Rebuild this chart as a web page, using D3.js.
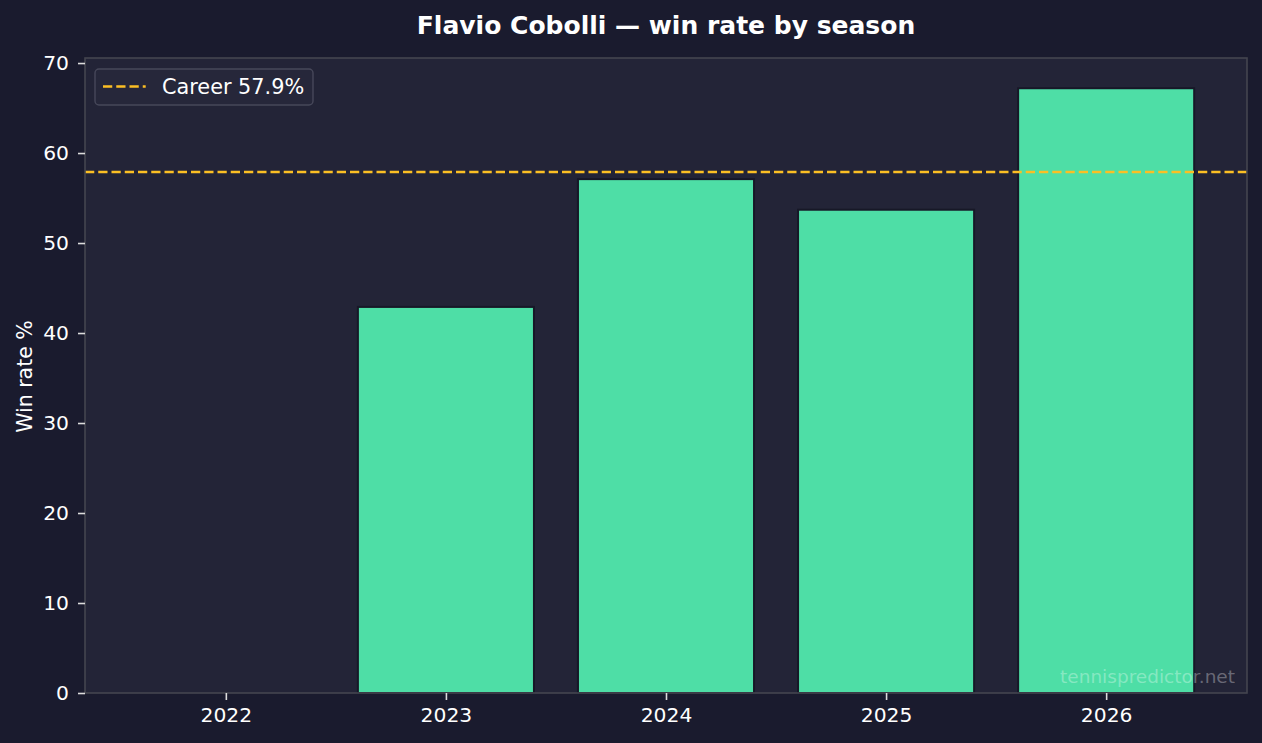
<!DOCTYPE html>
<html>
<head>
<meta charset="utf-8">
<script src="https://cdn.jsdelivr.net/npm/d3@7"></script>
<style>
  body { margin: 0; background: #1a1b2e; }
  svg { display: block; font-family: "DejaVu Sans", sans-serif; }
</style>
</head>
<body>
<div id="chart"></div>
<script>
// season data
var seasons = ["2022", "2023", "2024", "2025", "2026"];
var winRates = [0, 42.9, 57.1, 53.7, 67.2];
var careerRate = 57.9;
var yTicks = [0, 10, 20, 30, 40, 50, 60, 70];

var W = 1262, H = 743;
var margin = {top: 58, right: 15, bottom: 50, left: 85},
    width = W - margin.left - margin.right,
    height = H - margin.top - margin.bottom;

var svg = d3.select("#chart").append("svg")
    .attr("width", W)
    .attr("height", H);

svg.append("rect").attr("width", W).attr("height", H).attr("fill", "#1a1b2e");

var g = svg.append("g")
    .attr("transform", "translate(" + margin.left + "," + margin.top + ")");

// matplotlib-like band: bars 0.8 wide, 5% margins
var n = seasons.length;
var lo = -0.4, hi = n - 1 + 0.4, pad = (hi - lo) * 0.05;
var xi = d3.scaleLinear().domain([lo - pad, hi + pad]).range([0, width]);
var yMax = d3.max(winRates) * 1.05;
var y = d3.scaleLinear().domain([0, yMax]).range([height, 0]);

g.append("rect")
    .attr("width", width).attr("height", height)
    .attr("fill", "#232437");

// bars
g.selectAll(".bar")
    .data(winRates).enter()
    .append("rect")
    .attr("class", "bar")
    .attr("x", function(d, i) { return xi(i - 0.4); })
    .attr("width", xi(0.4) - xi(-0.4))
    .attr("y", function(d) { return y(d); })
    .attr("height", function(d) { return height - y(d); })
    .attr("fill", "#4edea6")
    .attr("stroke", "#171827")
    .attr("stroke-width", 2);

// career line
g.append("line")
    .attr("x1", 0).attr("x2", width)
    .attr("y1", y(careerRate)).attr("y2", y(careerRate))
    .attr("stroke", "#fbbf24")
    .attr("stroke-width", 2.5)
    .attr("stroke-dasharray", "9.25,4");

// watermark
g.append("text")
    .attr("x", width - 12)
    .attr("y", height - 10)
    .attr("text-anchor", "end")
    .attr("fill", "#ffffff")
    .attr("fill-opacity", 0.33)
    .style("font-size", "18.5px")
    .text("tennispredictor.net");

// frame
g.append("rect")
    .attr("width", width).attr("height", height)
    .attr("fill", "none")
    .attr("stroke", "#44454f")
    .attr("stroke-width", 1.6);

// axes
var xAxis = d3.axisBottom(xi)
    .tickValues(d3.range(n))
    .tickFormat(function(i) { return seasons[i]; })
    .tickSize(7).tickPadding(7);
var yAxis = d3.axisLeft(y)
    .tickValues(yTicks)
    .tickSize(7).tickPadding(9);

var gx = g.append("g")
    .attr("transform", "translate(0," + height + ")")
    .call(xAxis);
var gy = g.append("g").call(yAxis);

[gx, gy].forEach(function(ax) {
  ax.attr("font-family", null).attr("font-size", null);
  ax.select(".domain").remove();
  ax.selectAll("line").attr("stroke", "#dcdcdc").attr("stroke-width", 1.6);
  ax.selectAll("text").attr("fill", "#ffffff").style("font-size", "20.3px");
});
gx.selectAll("text").attr("dy", "0.76em");

// y label
g.append("text")
    .attr("transform", "rotate(-90)")
    .attr("x", -height / 2 - 1)
    .attr("y", -53.5)
    .attr("text-anchor", "middle")
    .attr("fill", "#ffffff")
    .style("font-size", "20.5px")
    .text("Win rate %");

// title
svg.append("text")
    .attr("x", W / 2 + 35)
    .attr("y", 34)
    .attr("text-anchor", "middle")
    .attr("fill", "#ffffff")
    .style("font-size", "25px")
    .style("font-weight", "bold")
    .text("Flavio Cobolli \u2014 win rate by season");

// legend
var lg = g.append("g").attr("transform", "translate(10,11)");
lg.append("rect")
    .attr("width", 218).attr("height", 36)
    .attr("rx", 4)
    .attr("fill", "#26273a")
    .attr("stroke", "#47485a")
    .attr("stroke-width", 1.4);
lg.append("line")
    .attr("x1", 8).attr("x2", 50.7)
    .attr("y1", 17.5).attr("y2", 17.5)
    .attr("stroke", "#fbbf24")
    .attr("stroke-width", 2.5)
    .attr("stroke-dasharray", "9.25,4");
lg.append("text")
    .attr("x", 67).attr("y", 25)
    .attr("fill", "#ffffff")
    .style("font-size", "20.8px")
    .text("Career " + careerRate + "%");
</script>
</body>
</html>
